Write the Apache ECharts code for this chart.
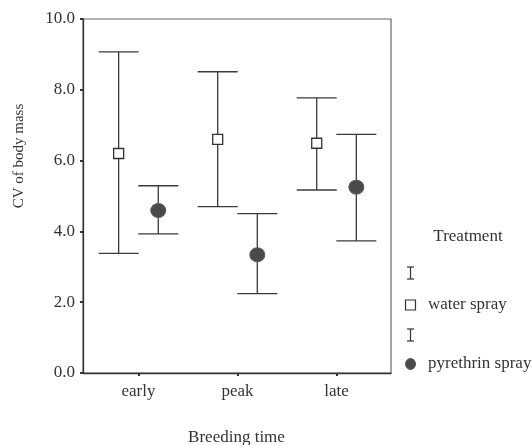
<!DOCTYPE html>
<html>
<head>
<meta charset="utf-8">
<script src="https://cdn.jsdelivr.net/npm/echarts@6/dist/echarts.min.js"></script>
<style>html,body{margin:0;padding:0;background:#fff}#c{width:532px;height:445px}</style>
</head>
<body>
<div id="c"></div>
<script>
var categories = ['early', 'peak', 'late'];
var seriesNames = ['water spray', 'pyrethrin spray'];
var waterMean = [6.20, 6.60, 6.49];
var waterLow = [3.38, 4.70, 5.17];
var waterHigh = [9.07, 8.51, 7.77];
var pyrMean = [4.59, 3.34, 5.25];
var pyrLow = [3.93, 2.24, 3.73];
var pyrHigh = [5.29, 4.50, 6.74];
var yTicks = [0, 2, 4, 6, 8, 10];

var FONT = '"Liberation Serif", "DejaVu Serif", serif';
var FS = 17;
var OFFSET = 0.2;

function barData(low, high, off) {
  return categories.map(function (c, i) { return [i + 1 + off, low[i], high[i]]; });
}
function meanData(mean, off) {
  return categories.map(function (c, i) { return [i + 1 + off, mean[i]]; });
}
function renderBar(params, api) {
  var x = api.value(0);
  var lo = api.coord([x, api.value(1)]);
  var hi = api.coord([x, api.value(2)]);
  var hw = 20;
  var st = { stroke: '#3a3a3a', lineWidth: 1.3 };
  return {
    type: 'group',
    children: [
      { type: 'line', shape: { x1: lo[0], y1: lo[1], x2: hi[0], y2: hi[1] }, style: st },
      { type: 'line', shape: { x1: lo[0] - hw, y1: lo[1], x2: lo[0] + hw, y2: lo[1] }, style: st },
      { type: 'line', shape: { x1: hi[0] - hw, y1: hi[1], x2: hi[0] + hw, y2: hi[1] }, style: st }
    ]
  };
}
function errIcon(x, y) {
  var st = { stroke: '#333', lineWidth: 1.2 };
  return { type: 'group', x: x, y: y, children: [
    { type: 'line', shape: { x1: 0, y1: -6, x2: 0, y2: 6 }, style: st },
    { type: 'line', shape: { x1: -3.5, y1: -6, x2: 3.5, y2: -6 }, style: st },
    { type: 'line', shape: { x1: -3.5, y1: 6, x2: 3.5, y2: 6 }, style: st }
  ] };
}

var chart = echarts.init(document.getElementById('c'));
var legendX = 410.5;
chart.setOption({
  animation: false,
  backgroundColor: '#fff',
  textStyle: { fontFamily: FONT },
  grid: { left: 83, right: 141, top: 19, bottom: 72, show: true, borderColor: '#666', borderWidth: 1.2 },
  xAxis: {
    type: 'value', min: 0.44, max: 3.55,
    splitLine: { show: false },
    axisLine: { lineStyle: { color: '#333', width: 1.3 } },
    axisTick: { show: true, customValues: [1, 2, 3], length: 3, lineStyle: { color: '#333', width: 2 } },
    axisLabel: {
      customValues: [1, 2, 3], margin: 10,
      formatter: function (v) { return categories[Math.round(v) - 1] || ''; },
      color: '#333', fontSize: FS, fontFamily: FONT
    }
  },
  yAxis: {
    type: 'value', min: 0, max: 10, interval: 2,
    splitLine: { show: false },
    axisLine: { show: true, lineStyle: { color: '#333', width: 1.3 } },
    axisTick: { show: true, length: 3, lineStyle: { color: '#333', width: 2 } },
    axisLabel: {
      margin: 8, color: '#333', fontSize: FS, fontFamily: FONT,
      formatter: function (v) { return yTicks.indexOf(v) >= 0 ? v.toFixed(1) : ''; }
    }
  },
  series: [
    { type: 'custom', name: seriesNames[0], renderItem: renderBar, data: barData(waterLow, waterHigh, -OFFSET), z: 2 },
    { type: 'custom', name: seriesNames[1], renderItem: renderBar, data: barData(pyrLow, pyrHigh, OFFSET), z: 2 },
    { type: 'scatter', name: seriesNames[0], symbol: 'rect', symbolSize: 10, data: meanData(waterMean, -OFFSET),
      itemStyle: { color: '#fff', borderColor: '#333', borderWidth: 1.3, opacity: 1 }, z: 5 },
    { type: 'scatter', name: seriesNames[1], symbol: 'circle', symbolSize: [15, 14], data: meanData(pyrMean, OFFSET),
      itemStyle: { color: '#4a4a4a', borderColor: '#5c5c5c', borderWidth: 1, opacity: 1 }, z: 5 }
  ],
  graphic: [
    { type: 'text', x: 236.5, y: 438, style: { text: 'Breeding time', font: FS + 'px ' + FONT, fill: '#333', align: 'center', verticalAlign: 'middle' } },
    { type: 'text', x: 19, y: 156, rotation: Math.PI / 2, style: { text: 'CV of body mass', font: '15px ' + FONT, fill: '#333', align: 'center', verticalAlign: 'middle' } },
    { type: 'text', x: 468, y: 237, style: { text: 'Treatment', font: FS + 'px ' + FONT, fill: '#333', align: 'center', verticalAlign: 'middle' } },
    errIcon(legendX, 273),
    { type: 'rect', shape: { x: legendX - 5, y: 300, width: 10, height: 10 }, style: { fill: '#fff', stroke: '#333', lineWidth: 1.2 } },
    { type: 'text', x: 428, y: 305, style: { text: seriesNames[0], font: FS + 'px ' + FONT, fill: '#333', verticalAlign: 'middle' } },
    errIcon(legendX, 335),
    { type: 'ellipse', shape: { cx: legendX, cy: 364, rx: 5, ry: 5.5 }, style: { fill: '#4a4a4a', stroke: '#5c5c5c', lineWidth: 1 } },
    { type: 'text', x: 428, y: 364, style: { text: seriesNames[1], font: FS + 'px ' + FONT, fill: '#333', verticalAlign: 'middle' } }
  ]
});
</script>
</body>
</html>
